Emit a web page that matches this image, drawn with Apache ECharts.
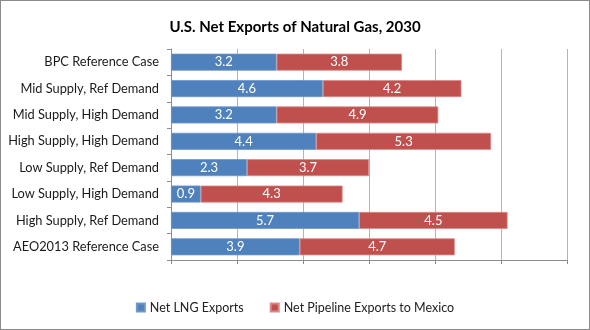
<!DOCTYPE html>
<html><head><meta charset="utf-8">
<script src="https://cdn.jsdelivr.net/npm/echarts@6/dist/echarts.min.js"></script>
<style>html,body{margin:0;padding:0;background:#fff}
#c{position:absolute;left:0;top:0;width:588px;height:328px;border:1px solid #8a8a8a;}</style>
</head><body><div id="c"></div>
<script>
const categories = ["BPC Reference Case","Mid Supply, Ref Demand","Mid Supply, High Demand","High Supply, High Demand","Low Supply, Ref Demand","Low Supply, High Demand","High Supply, Ref Demand","AEO2013 Reference Case"];
const lngExports = [3.2,4.6,3.2,4.4,2.3,0.9,5.7,3.9];
const pipelineExports = [3.8,4.2,4.9,5.3,3.7,4.3,4.5,4.7];
const seriesNames = ["Net LNG Exports","Net Pipeline Exports to Mexico"];
const FONT = "Lato, 'Open Sans', sans-serif";
const chart = echarts.init(document.getElementById('c'), null, {renderer:'canvas'});
const lbl = {show:true, position:'inside', color:'#fff', fontSize:13, fontFamily:FONT, formatter: p => p.value.toFixed(1)};
chart.setOption({
  animation:false,
  title:{text:'U.S. Net Exports of Natural Gas, 2030', left:'center', top:14, textStyle:{fontSize:15, fontWeight:'bold', color:'#000', fontFamily:FONT}},
  grid:{left:170, right:22, top:48, bottom:69, containLabel:false},
  legend:{bottom:10, left:'center', itemWidth:8, itemHeight:8, itemGap:26, icon:'rect', textStyle:{fontSize:12.5, color:'#222', fontFamily:FONT}, data:seriesNames},
  xAxis:{type:'value', min:0, max:12, interval:2,
    axisLabel:{show:false},
    axisLine:{show:true, lineStyle:{color:'#8c8c8c'}},
    axisTick:{show:true, length:4, inside:false, lineStyle:{color:'#8c8c8c'}},
    splitLine:{show:true, lineStyle:{color:'#b4b4b4'}}},
  yAxis:{type:'category', data:categories, inverse:true,
    axisLine:{show:true, lineStyle:{color:'#8c8c8c'}},
    axisTick:{show:true, length:4, lineStyle:{color:'#8c8c8c'}},
    axisLabel:{color:'#1a1a1a', fontSize:12.8, fontFamily:FONT, margin:12}},
  series:[
    {name:seriesNames[0], type:'bar', stack:'t', data:lngExports, barWidth:17,
     itemStyle:{color:'#4f81bd', borderColor:'#6f97c9', borderWidth:0.8}, label:lbl},
    {name:seriesNames[1], type:'bar', stack:'t', data:pipelineExports, barWidth:17,
     itemStyle:{color:'#c0504d', borderColor:'#d98a88', borderWidth:0.8}, label:lbl}
  ]
});
</script></body></html>
